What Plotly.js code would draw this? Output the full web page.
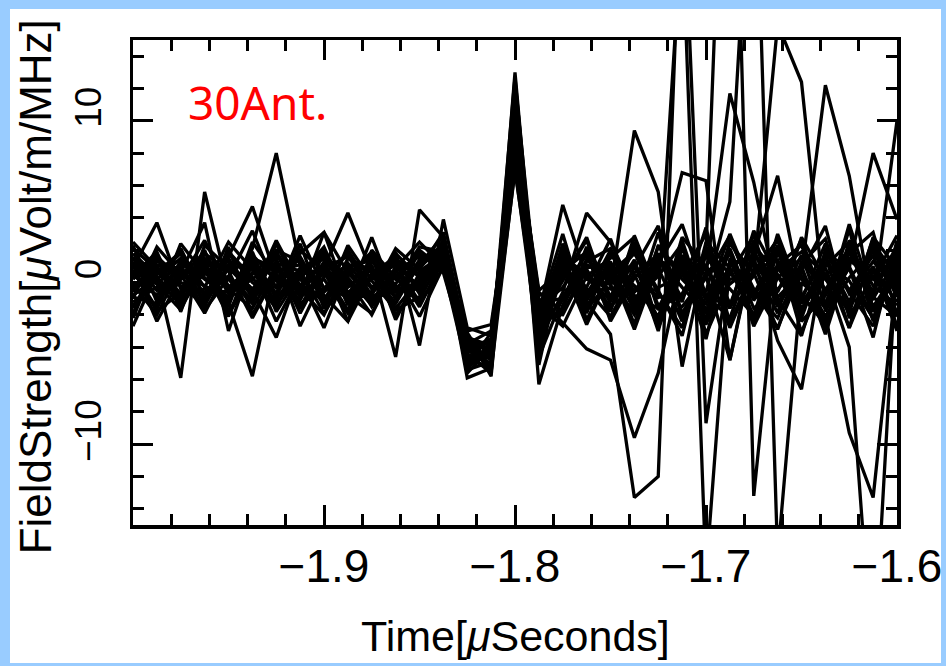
<!DOCTYPE html>
<html>
<head>
<meta charset="utf-8">
<script src="https://cdn.plot.ly/plotly-3.0.1.min.js"></script>
<style>
  html, body { margin: 0; padding: 0; width: 946px; height: 666px; background: #99ccff; overflow: hidden; }
  #chart { position: absolute; left: 10px; top: 9px; width: 931px; height: 654px; background: #ffffff; overflow: hidden; }
</style>
</head>
<body>
<div id="chart"></div>
<script>
// Sample times in microseconds (12.5 ns sampling)
const timeUs = [-2.0000,-1.9875,-1.9750,-1.9625,-1.9500,-1.9375,-1.9250,-1.9125,-1.9000,-1.8875,-1.8750,-1.8625,
  -1.8500,-1.8375,-1.8250,-1.8125,-1.8000,-1.7875,-1.7750,-1.7625,-1.7500,-1.7375,-1.7250,-1.7125,
  -1.7000,-1.6875,-1.6750,-1.6625,-1.6500,-1.6375,-1.6250,-1.6125,-1.6000];

// Field strength per antenna [uV/m/MHz]
const ant01 = [0.5,-0.8,1.2,0.3,-1.0,2.1,8.0,1.0,-0.6,0.8,-1.2,0.4, 0.9,2.4,-4.8,-5.2,13.0,-3.5, 1.2,-0.8,2.0,-1.5,3.1,-2.2,0.6,1.8,-2.6,0.9,-1.1,2.4,-0.7,1.3,-0.4];
const ant02 = [1.8,0.4,-5.9,5.6,-0.5,0.9,-1.4,0.6,1.5,-0.3,0.8,-1.6, 0.2,1.8,-3.9,-4.6,11.8,-2.8, -1.6,2.2,-0.9,1.4,-3.0,2.6,-1.8,0.5,2.9,-1.4,1.7,-2.5,1.9,-0.6,2.3];
const ant03 = [-0.6,1.3,0.8,-1.2,1.6,4.7,0.3,-1.5,0.9,4.3,0.6,-0.9, 1.4,2.2,-5.1,-3.8,10.5,-4.2, 0.7,1.9,-2.4,0.3,1.6,-1.2,3.4,-2.7,0.8,2.1,-3.1,0.6,-1.9,2.8,0.9];
const ant04 = [0.9,3.7,-0.4,1.1,-1.3,-5.8,1.2,0.7,-1.9,0.5,1.7,-0.2, -1.0,1.6,-4.4,-5.6,12.4,-2.1, 2.3,-1.1,0.8,-2.9,1.2,3.6,-0.8,-2.2,1.9,-0.6,2.7,-1.5,3.3,-2.4,1.1];
const ant05 = [-1.4,0.2,1.5,-0.8,0.4,-1.1,1.8,-0.9,0.6,-1.7,1.1,-4.6, 4.5,2.8,-3.6,-4.1,9.8,-1.4, -2.7,0.4,1.5,2.8,-1.7,0.9,-3.5,2.6,-0.4,-2.8,0.7,3.5,-2.2,0.4,-1.8];
const ant06 = [2.3,-1.2,0.6,3.7,-3.0,1.4,-0.7,2.9,-0.4,1.2,-0.8,1.9, -3.9,3.9,-2.8,-3.3,8.6,-3.0, 1.8,-2.3,0.5,1.1,-2.3,2.8,1.0,-1.6,3.2,0.4,-2.0,1.8,0.9,-3.4,2.6];
const ant07 = [-0.3,0.9,-1.1,0.6,1.3,-0.5,-3.4,0.8,1.7,-0.6,0.3,1.2, 0.5,1.9,-5.4,-4.9,11.2,-2.6, 0.9,-1.2,-3.2,-13.3,-12.0,26.0,-8.7,1.4,-2.1,3.0,-0.9,1.6,-2.8,0.8,-1.2];
const ant08 = [1.1,-2.4,0.3,1.9,-0.7,0.2,1.5,-2.7,0.4,1.0,-1.5,0.7, 1.6,1.2,-3.2,-5.8,10.1,-1.0, -2.5,-4.1,-4.8,-9.6,-5.6,1.2,-1.8,2.4,0.6,-2.9,1.3,-0.5,2.2,-1.7,0.3];
const ant09 = [-2.7,0.6,1.9,-0.3,2.5,0.8,-1.2,0.3,-2.8,0.9,1.4,-0.6, 0.1,2.6,-4.1,-3.5,9.2,-3.8, 1.5,0.2,-0.4,9.4,5.6,-5.2,1.9,-1.3,0.4,2.7,-2.4,-0.8,1.8,3.1,-2.0];
const ant10 = [0.2,1.7,-1.8,2.3,0.9,-0.6,2.6,-0.2,1.1,-2.4,0.5,1.6, -0.7,2.1,-5.9,-5.3,12.0,-6.3, -1.4,1.1,0.3,-2.0,0.7,6.8,6.3,-4.8,2.0,-1.5,0.9,-3.2,1.4,0.2,2.9];
const ant11 = [1.5,-0.5,0.9,-1.7,0.3,3.2,-0.4,1.8,3.1,-1.0,2.8,-1.1, 2.0,0.8,-3.0,-2.6,7.4,-1.8, 3.0,-1.9,1.7,0.5,-2.7,1.4,0.5,11.7,6.2,-1.0,-3.3,1.6,-1.2,2.2,-0.9];
const ant12 = [-1.9,1.0,-0.7,1.4,-2.0,0.6,0.9,-1.3,-0.5,2.0,-0.3,0.8, -1.5,1.4,-4.7,-4.3,8.9,-2.4, 0.3,2.6,-1.2,2.2,-0.5,-3.3,2.5,0.9,-2.3,1.8,0.2,-1.6,3.6,-1.0,1.5];
const ant13 = [0.7,-1.6,1.4,0.2,-0.9,1.9,-1.8,0.5,2.2,-1.1,-0.7,2.1, 0.8,3.1,-3.7,-4.8,6.9,-3.1, 2.0,-0.6,1.0,-1.7,2.2,0.6,-2.6,1.2,1.5,-3.6,-6.6,2.1,-0.5,1.7,-2.7];
const ant14 = [-0.8,0.3,-1.0,1.8,0.7,-2.2,0.6,1.4,-1.2,0.4,1.9,-0.4, 1.1,2.9,-5.6,-4.0,11.0,-4.6, -0.9,1.3,2.1,-1.0,0.4,2.4,-3.2,0.2,0.5,16.0,12.4,-1.8,1.0,-2.3,0.6];
const ant15 = [2.1,0.8,-0.2,-1.4,1.1,-0.9,2.4,-0.6,0.2,-1.9,0.6,1.3, 0.4,1.5,-4.2,-5.0,9.5,-2.2, 1.0,-2.6,0.6,1.9,-1.4,-0.7,2.0,-1.6,1.3,-0.9,0.6,12.2,6.6,-1.8,0.8];
const ant16 = [-1.2,-0.3,2.1,-0.9,1.9,0.3,-1.6,2.0,0.7,-0.8,-1.9,0.9, 2.5,1.0,-3.4,-3.9,8.0,-0.6, -1.8,0.8,-1.6,0.9,3.5,-2.0,1.1,-2.8,0.7,2.6,-1.0,-2.0,-9.3,-13.3,0.5];
const ant17 = [0.4,1.9,-1.5,0.8,-2.1,1.7,0.1,-0.8,3.1,0.6,-1.0,-0.5, -0.3,2.3,-4.9,-4.4,10.8,-3.3, 0.5,-0.3,2.7,-1.3,1.8,-1.9,0.3,2.9,-1.1,0.8,1.9,0.5,-4.0,-24.0,2.0];
const ant18 = [-1.0,2.2,0.5,-1.9,1.0,-0.4,1.3,-1.9,0.9,1.6,-0.4,1.4, 0.7,1.7,-5.2,-3.1,7.7,-1.6, -0.3,1.7,-0.9,2.5,-2.8,0.9,1.6,-0.4,-2.0,1.1,2.3,-1.4,0.9,8.0,3.9];
const ant19 = [1.3,-1.0,0.2,2.6,-0.3,1.0,-2.4,0.4,-1.3,2.3,0.1,-1.7, -0.9,2.7,-3.5,-5.4,11.5,-2.9, 2.4,-1.5,1.1,-0.2,-2.1,1.7,-1.1,3.0,-0.6,-2.2,1.2,2.7,-1.9,-0.4,1.7];
const ant20 = [-0.4,0.5,1.8,-1.5,2.2,-2.0,0.7,1.1,-0.8,-2.4,2.0,0.3, 1.8,0.6,-4.5,-4.7,9.0,-5.1, 1.6,0.5,-1.8,2.9,-0.8,-1.5,0.4,-4.8,2.3,0.5,-1.7,1.0,2.5,-0.9,-2.1];
const ant21 = [0.8,-1.8,-0.6,1.0,-1.5,2.5,0.4,-1.1,1.8,0.1,-2.0,1.0, -0.2,1.1,-3.8,-3.0,8.3,-1.2, -1.0,2.0,-0.2,-1.8,1.5,-0.3,-1.9,1.0,1.7,6.6,-0.8,-2.6,1.5,0.6,1.9];
const ant22 = [-2.2,1.4,0.0,-0.6,0.8,1.2,-0.9,2.4,-1.6,1.5,0.7,-1.3, 1.2,2.0,-4.6,-4.4,10.2,-2.0, 4.8,0.3,-1.1,1.3,-2.5,2.1,-0.9,-1.4,2.6,-1.2,0.4,-2.1,0.3,1.9,-0.7];
const ant23 = [1.6,0.1,-1.3,0.9,-0.4,-1.6,1.0,0.2,2.0,-1.4,1.3,0.2, -0.5,2.5,-5.0,-4.2,12.7,-3.7, -0.6,4.3,2.5,-0.6,0.9,-2.4,1.8,0.6,-1.0,2.3,-1.3,0.9,-2.8,2.4,0.4];
const ant24 = [-0.9,-1.3,2.4,0.5,1.5,-0.8,-0.2,1.6,-1.0,0.3,-1.4,1.8, 0.3,1.3,-4.0,-5.1,9.6,-0.5, 0.8,-0.9,1.3,-2.6,2.3,0.2,-1.3,1.9,-2.7,0.3,1.5,-0.4,-1.3,1.0,-3.0];
const ant25 = [0.3,0.7,-0.9,2.0,-1.8,0.5,1.9,-0.4,-2.0,1.1,0.9,-0.9, 1.0,2.2,-3.3,-4.5,8.4,-2.7, -1.1,1.4,0.1,1.0,-1.0,22.0,-18.0,1.5,-0.7,2.0,-1.9,1.2,0.1,-2.2,1.6];
const ant26 = [-1.6,1.1,0.5,-0.2,-1.1,1.5,0.9,-0.3,1.2,-1.2,1.6,-2.3, 0.6,1.7,-4.3,-3.6,10.7,-3.2, 2.1,-0.4,-2.1,0.6,1.7,-1.0,2.0,40.0,-13.2,1.3,-1.6,0.4,2.0,-1.5,0.7];
const ant27 = [1.0,-0.1,-1.7,1.3,0.2,-1.3,2.0,1.3,-0.3,-0.9,0.2,1.1, -1.2,0.9,-5.3,-4.0,11.4,-1.9, -2.0,0.9,1.2,-0.8,-1.6,1.3,-0.6,5.0,30.0,-17.0,0.0,-1.3,2.2,-0.2,-1.4];
const ant28 = [-0.1,-2.0,1.0,-1.1,1.8,0.0,-1.0,0.9,0.5,1.8,-0.9,-0.1, 2.2,1.9,-3.1,-5.5,7.1,-4.0, 1.3,-1.7,0.2,1.8,-0.6,-2.8,2.2,-0.1,1.1,-1.9,2.8,0.2,-1.5,2.7,-0.9];
const ant29 = [2.5,0.9,-0.8,-0.4,-0.6,0.6,1.1,-1.6,1.3,-0.1,-0.6,0.5, -2.1,1.0,-4.8,-4.6,9.3,-2.3, 0.1,2.8,-1.4,-0.5,1.3,1.0,-2.3,2.1,-1.6,-0.4,1.0,-2.9,2.6,-1.1,10.0];
const ant30 = [-0.5,1.6,0.2,1.5,-0.2,-1.0,0.5,-0.5,-1.0,0.7,1.0,-2.0, 0.0,2.0,-3.5,-3.9,10.0,-0.8, -0.4,-1.0,1.9,-1.1,-0.3,0.4,3.0,-2.5,0.8,1.4,-2.2,1.9,-0.6,-2.7,1.2];

const antennas = [ant01,ant02,ant03,ant04,ant05,ant06,ant07,ant08,ant09,ant10,
                  ant11,ant12,ant13,ant14,ant15,ant16,ant17,ant18,ant19,ant20,
                  ant21,ant22,ant23,ant24,ant25,ant26,ant27,ant28,ant29,ant30];

const xTickVals = [-1.9, -1.8, -1.7, -1.6];
const yTickVals = [-10, 0, 10];
const labelText = "30Ant.";
const xTitle = 'Time[<i>\u03bc</i>Seconds]';
const yTitle = 'FieldStrength[<i>\u03bc</i>Volt/m/MHz]';

const traces = antennas.map(function (vals) {
  return {
    x: timeUs, y: vals, type: 'scatter', mode: 'lines',
    line: { color: '#000000', width: 3.3 },
    showlegend: false, hoverinfo: 'skip'
  };
});

const fam = 'Liberation Sans, Arial, sans-serif';

const layout = {
  width: 931, height: 654,
  paper_bgcolor: '#ffffff', plot_bgcolor: '#ffffff',
  margin: { l: 123, r: 44, t: 31, b: 138 },
  showlegend: false,
  xaxis: {
    range: [-2.0, -1.6], tickmode: 'array', tickvals: xTickVals,
    ticktext: xTickVals.map(function (v) { return '\u2212' + Math.abs(v).toFixed(1); }),
    ticks: 'inside', ticklen: 20, tickwidth: 3, tickcolor: '#000',
    minor: { dtick: 0.02, tick0: -2.0, ticks: 'inside', ticklen: 11, tickwidth: 3, tickcolor: '#000', showgrid: false },
    showline: true, linecolor: '#000', linewidth: 3.5, mirror: 'allticks',
    showgrid: false, zeroline: false,
    tickfont: { family: fam, size: 46, color: '#000' },
    ticklabelstandoff: -2, ticklabeloverflow: 'allow',
    automargin: false
  },
  yaxis: {
    range: [-15, 15], tickmode: 'array', tickvals: yTickVals,
    ticktext: yTickVals.map(function (v) { return v < 0 ? '\u2212' + Math.abs(v) : String(v); }),
    tickangle: -90, ticklabelstandoff: 14, ticklabelshift: -8, ticklabeloverflow: 'allow',
    ticks: 'inside', ticklen: 20, tickwidth: 3, tickcolor: '#000',
    minor: { dtick: 2, tick0: 0, ticks: 'inside', ticklen: 11, tickwidth: 3, tickcolor: '#000', showgrid: false },
    showline: true, linecolor: '#000', linewidth: 3.5, mirror: 'allticks',
    showgrid: false, zeroline: false,
    tickfont: { family: fam, size: 37, color: '#000' },
    automargin: false
  },
  annotations: [
    {
      text: labelText, xref: 'paper', yref: 'paper', x: 0.07, y: 0.872,
      xanchor: 'left', yanchor: 'middle', showarrow: false,
      font: { family: 'Noto Sans, sans-serif', size: 46, color: '#ff0000' }
    },
    {
      text: xTitle, xref: 'paper', yref: 'paper', x: 0.5, y: -0.228,
      xanchor: 'center', yanchor: 'middle', showarrow: false,
      font: { family: fam, size: 43, color: '#000' }
    },
    {
      text: yTitle, xref: 'paper', yref: 'paper', x: -0.1283, y: 0.492, textangle: -90,
      xanchor: 'center', yanchor: 'middle', showarrow: false,
      font: { family: fam, size: 44, color: '#000' }
    }
  ]
};

Plotly.newPlot('chart', traces, layout, { staticPlot: true, displayModeBar: false });
</script>
</body>
</html>
